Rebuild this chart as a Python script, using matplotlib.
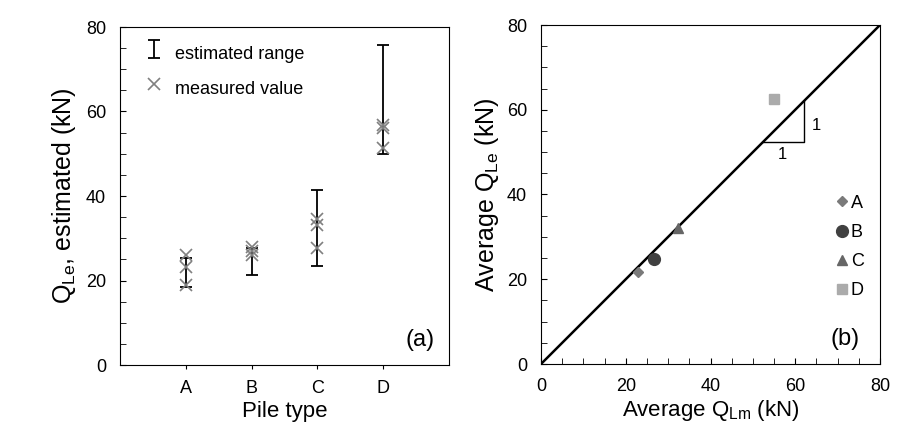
import matplotlib.pyplot as plt
import numpy as np

plt.rcParams['font.family'] = ['Liberation Sans', 'DejaVu Sans']
plt.rcParams['mathtext.fontset'] = 'custom'
plt.rcParams['mathtext.rm'] = 'Liberation Sans'

# (a) estimated range and measured values per pile type
piles = ['A', 'B', 'C', 'D']
range_low = [18.5, 21.3, 23.4, 49.9]
range_high = [25.4, 27.7, 41.4, 75.7]
measured = [[26.0, 23.2, 19.0],
            [28.0, 27.0, 26.0],
            [34.5, 33.1, 27.7],
            [56.8, 56.0, 51.3]]

# (b) average measured vs average estimated
avg_measured = [22.9, 26.7, 32.3, 55.0]
avg_estimated = [21.7, 24.8, 32.1, 62.5]
markers = ['D', 'o', '^', 's']
colors = ['#7a7a7a', '#404040', '#666666', '#ababab']
sizes = [5.5, 8.5, 7.5, 7.5]

fig = plt.figure(figsize=(9.15, 4.23), dpi=100)
ax1 = fig.add_axes([120/915, 1 - 365/423, 329/915, 338/423])
ax2 = fig.add_axes([541/915, 1 - 364/423, 339/915, 339/423])

# --- panel a ---
xpos = np.arange(1, len(piles) + 1)
mid = [(l + h) / 2 for l, h in zip(range_low, range_high)]
err = [[m - l for m, l in zip(mid, range_low)], [h - m for h, m in zip(range_high, mid)]]
eb = ax1.errorbar(xpos, mid, yerr=err, fmt='none', ecolor='black', elinewidth=1.3,
                  capsize=4, capthick=1.3, label='estimated range')
for i, vals in enumerate(measured):
    ln, = ax1.plot([xpos[i]] * len(vals), vals, 'x', color='#808080', ms=8, mew=1.2,
                   label='measured value')
    if i == 0:
        xh = ln
ax1.set_xlim(0, 5)
ax1.set_ylim(0, 80)
ax1.set_xticks(xpos)
ax1.set_xticklabels(piles)
ax1.set_yticks([0, 20, 40, 60, 80])
ax1.set_yticks(np.arange(0, 81, 5), minor=True)
ax1.tick_params(axis='y', which='both', direction='in', length=4, labelsize=13, pad=10)
ax1.tick_params(axis='x', direction='out', length=3, labelsize=13, pad=8)
ax1.set_xlabel('Pile type', fontsize=16, labelpad=3)
ax1.set_ylabel('Q$_{\\mathrm{Le}}$, estimated (kN)', fontsize=18, labelpad=6)
ax1.legend([eb, xh], ['estimated range', 'measured value'], loc='upper left',
           frameon=False, fontsize=13, handlelength=1.2, handleheight=1.9,
           labelspacing=0.45, handletextpad=0.6, bbox_to_anchor=(0.02, 1.01))
ax1.text(0.955, 0.04, '(a)', transform=ax1.transAxes, ha='right', va='bottom', fontsize=17)

# --- panel b ---
ax2.plot([0, 80], [0, 80], color='black', lw=1.8)
for i in range(len(piles)):
    ax2.plot(avg_measured[i], avg_estimated[i], markers[i], color=colors[i],
             ms=sizes[i], label=piles[i], ls='none')
# 1:1 slope triangle
ax2.plot([52.5, 62.0, 62.0], [52.5, 52.5, 62.0], color='black', lw=1)
ax2.text(65, 56.3, '1', fontsize=12, ha='center', va='center')
ax2.text(57, 49.5, '1', fontsize=12, ha='center', va='center')
ax2.set_xlim(0, 80)
ax2.set_ylim(0, 80)
ax2.set_xticks([0, 20, 40, 60, 80])
ax2.set_yticks([0, 20, 40, 60, 80])
ax2.set_xticks(np.arange(0, 81, 5), minor=True)
ax2.set_yticks(np.arange(0, 81, 5), minor=True)
ax2.tick_params(axis='both', which='both', direction='in', length=4, labelsize=13)
ax2.tick_params(axis='x', pad=10)
ax2.tick_params(axis='y', pad=10)
ax2.set_xlabel('Average Q$_{\\mathrm{Lm}}$ (kN)', fontsize=16, labelpad=2)
ax2.set_ylabel('Average Q$_{\\mathrm{Le}}$ (kN)', fontsize=18, labelpad=4)
ax2.legend(loc='center right', frameon=False, fontsize=13, handlelength=0.8,
           handletextpad=0.1, labelspacing=0.68, bbox_to_anchor=(1.0, 0.345))
ax2.text(0.94, 0.04, '(b)', transform=ax2.transAxes, ha='right', va='bottom', fontsize=17)

fig.savefig('out.png', dpi=100)
